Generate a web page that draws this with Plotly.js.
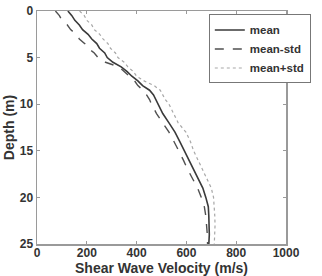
<!DOCTYPE html>
<html><head><meta charset="utf-8">
<script src="https://cdn.plot.ly/plotly-3.0.1.min.js"></script>
<style>html,body{margin:0;padding:0;background:#fff}#chart{width:322px;height:276px}</style>
</head><body><div id="chart"></div>
<script>
const depth   = [0, 0.5, 1, 1.5, 2, 2.5, 3, 3.5, 4, 4.5, 5, 5.5, 6, 6.5, 7, 7.5, 8, 8.5, 9, 9.5, 10, 11, 12, 13, 14, 15, 16, 17, 18, 19, 20, 21, 22, 23, 24, 25];
const vMean   = [124, 140, 152, 170, 183, 205, 220, 240, 251, 272, 282, 305, 338, 362, 381, 405, 424, 452, 468, 478, 486, 505, 530, 554, 573, 592, 610, 629, 647, 666, 678, 688, 690, 692, 692, 690];
const vMinus  = [74, 90, 100, 122, 135, 157, 170, 192, 205, 230, 245, 275, 330, 352, 370, 392, 405, 426, 440, 452, 460, 480, 505, 530, 550, 570, 588, 605, 625, 645, 660, 672, 678, 682, 684, 685];
const vPlus   = [171, 190, 200, 220, 230, 252, 265, 285, 295, 315, 325, 350, 365, 387, 400, 430, 470, 495, 505, 515, 530, 548, 567, 598, 616, 629, 647, 666, 684, 700, 709, 713, 714, 715, 714, 712];
const names   = ["mean", "mean-std", "mean+std"];
const xTicks  = [0, 200, 400, 600, 800, 1000];
const yTicks  = [0, 5, 10, 15, 20, 25];
const xTitle  = "Shear Wave Velocity (m/s)";
const yTitle  = "Depth (m)";

const FONT = "Liberation Sans, Arial, sans-serif";
const traces = [
  {x: vMean,  y: depth, name: names[0], mode: "lines", line: {color: "#3a3a3a", width: 1.6}},
  {x: vMinus, y: depth, name: names[1], mode: "lines", line: {color: "#505050", width: 1.4, dash: "dash"}},
  {x: vPlus,  y: depth, name: names[2], mode: "lines", line: {color: "#a8a8a8", width: 1.2, dash: "dot"}}
];
const axisCommon = {
  showgrid: false, zeroline: false, showline: true, mirror: "ticks",
  linecolor: "#9a9a9a", linewidth: 1.5, ticks: "inside", ticklen: 3, tickcolor: "#9a9a9a",
  tickfont: {family: FONT, size: 12, color: "#333", weight: "bold"}
};
const layout = {
  width: 322, height: 276,
  margin: {l: 37, r: 15, t: 11, b: 32},
  paper_bgcolor: "#fff", plot_bgcolor: "#fff",
  showlegend: true,
  xaxis: Object.assign({}, axisCommon, {range: [0, 1000], tickvals: xTicks, automargin: false, ticklabelstandoff: -3}),
  yaxis: Object.assign({}, axisCommon, {range: [25, 0], tickvals: yTicks, automargin: false,
    title: {text: yTitle, standoff: 2,
      font: {family: FONT, size: 14, color: "#333", weight: "bold"}}}),
  annotations: [{text: xTitle, xref: "paper", yref: "paper", x: 0.5, y: -0.103,
    xanchor: "center", yanchor: "middle", showarrow: false,
    font: {family: FONT, size: 14, color: "#333", weight: "bold"}}],
  legend: {x: 0.69, y: 0.985, xanchor: "left", yanchor: "top",
    bgcolor: "#fff", bordercolor: "#777", borderwidth: 1,
    itemwidth: 30, tracegroupgap: 0,
    font: {family: FONT, size: 11.5, color: "#333", weight: "bold"}}
};
Plotly.newPlot("chart", traces, layout, {displayModeBar: false, staticPlot: true});
</script></body></html>
